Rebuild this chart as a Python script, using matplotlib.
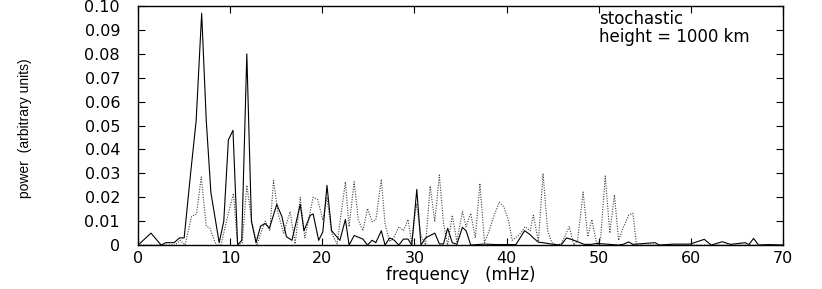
import matplotlib.pyplot as plt
from matplotlib.ticker import FuncFormatter

# solid curve
solid_f = [0, 1.4, 2.5, 3.0, 3.9, 4.5, 5.0, 5.7, 6.3, 6.9, 7.4, 7.9, 8.8, 9.3, 9.8,
           10.3, 10.8, 11.25, 11.8, 12.3, 12.8, 13.3, 13.8, 14.25, 15.05, 15.6, 16.1,
           16.7, 17.6, 18.0, 18.7, 19.0, 19.6, 20.05, 20.5, 21.0, 21.9, 22.5, 22.9,
           23.45, 24.4, 24.9, 25.4, 25.8, 26.4, 26.8, 27.3, 27.8, 28.3, 28.8, 29.3,
           29.7, 30.25, 30.7, 31.2, 31.7, 32.2, 32.7, 33.15, 33.6, 34.1, 34.6, 35.2,
           35.6, 36.1, 37.5, 39.0, 41.0, 41.95, 42.5, 42.9, 43.45, 43.95, 44.9, 45.9,
           46.5, 47.3, 48.4, 49.25, 49.8, 52.15, 52.7, 53.25, 53.7, 56.1, 56.6, 58.1,
           59.9, 61.45, 62.2, 63.4, 64.3, 65.9, 66.3, 66.8, 67.35, 68.4, 70]
solid_p = [0, 0.005, 0, 0.001, 0.001, 0.003, 0.003, 0.030, 0.052, 0.097, 0.052, 0.022,
           0.001, 0.010, 0.044, 0.048, 0, 0.002, 0.080, 0.010, 0.001, 0.008, 0.009,
           0.007, 0.017, 0.012, 0.0035, 0.002, 0.017, 0.006, 0.0125, 0.013, 0.002,
           0.0055, 0.025, 0.006, 0.002, 0.0107, 0, 0.004, 0.0025, 0, 0.002, 0.001,
           0.006, 0, 0.003, 0.002, 0, 0.0025, 0.0025, 0, 0.0233, 0, 0.003, 0.004,
           0.005, 0.0005, 0.0005, 0.007, 0.001, 0.0003, 0.0074, 0.006, 0, 0.0004,
           0.0002, 0.0002, 0.006, 0.0045, 0.003, 0.0012, 0.001, 0.0004, 0, 0.003,
           0.002, 0.0003, 0.0003, 0.0007, 0, 0.0004, 0.0013, 0.0003, 0.001, 0, 0.0004,
           0.0004, 0.0024, 0, 0.0014, 0.0003, 0.001, 0.0002, 0.0028, 0, 0.0002, 0]

# dotted curve
dot_f = [0, 4.0, 4.56, 5.1, 5.8, 6.35, 6.85, 7.4, 7.8, 8.47, 9.0, 9.45, 10.35, 10.8,
         11.3, 11.8, 12.35, 12.9, 13.4, 13.8, 14.3, 14.7, 15.2, 15.8, 16.5, 17.05,
         17.6, 18.1, 19.0, 19.5, 20.05, 20.5, 21.0, 21.6, 22.5, 22.9, 23.45, 23.9,
         24.4, 24.9, 25.4, 25.8, 26.4, 26.8, 27.3, 27.8, 28.3, 28.8, 29.3, 29.7,
         30.2, 30.7, 31.2, 31.7, 32.2, 32.7, 33.15, 33.6, 34.1, 34.6, 35.2, 35.6,
         36.1, 36.6, 37.1, 37.6, 38.1, 38.65, 39.2, 39.7, 40.2, 40.6, 41.1, 41.65,
         42.0, 42.55, 42.9, 43.45, 43.95, 44.45, 44.9, 45.4, 45.9, 46.3, 46.8, 47.3,
         47.7, 48.3, 48.8, 49.25, 49.8, 50.2, 50.7, 51.2, 51.7, 52.15, 52.7, 53.25,
         53.7, 54.1, 70]
dot_p = [0, 0, 0.002, 0, 0.012, 0.013, 0.0285, 0.008, 0.007, 0, 0, 0.0077, 0.0216, 0,
         0.001, 0.025, 0.0098, 0, 0.006, 0.010, 0.006, 0.027, 0.013, 0.005, 0.014,
         0.0005, 0.020, 0.003, 0.020, 0.019, 0.0105, 0.020, 0.005, 0.0005, 0.0265,
         0.0077, 0.0265, 0.0105, 0.006, 0.0153, 0.0098, 0.0105, 0.0275, 0.009,
         0.0014, 0.0035, 0.0077, 0.006, 0.0107, 0.0007, 0.0174, 0.004, 0, 0.0247,
         0.0098, 0.0293, 0.009, 0, 0.0125, 0.0015, 0.014, 0.0077, 0.0133, 0.003,
         0.0258, 0.001, 0.006, 0.0125, 0.018, 0.016, 0.0105, 0.002, 0.0035, 0.0055,
         0.0077, 0.006, 0.0125, 0.0015, 0.030, 0.006, 0.001, 0, 0.0005, 0.0035,
         0.0077, 0, 0.002, 0.0222, 0.0035, 0.0107, 0, 0.0025, 0.0289, 0.005, 0.021,
         0.002, 0.0077, 0.0125, 0.0133, 0, 0]

x_ticks = [0, 10, 20, 30, 40, 50, 60, 70]
y_ticks = [0, 0.01, 0.02, 0.03, 0.04, 0.05, 0.06, 0.07, 0.08, 0.09, 0.10]

fig = plt.figure(figsize=(8.22, 2.89), dpi=100)
ax = fig.add_axes([0.168, 0.152, 0.7846, 0.827])

ax.plot(dot_f, dot_p, color='0.25', lw=0.8, ls=(0, (1, 1.3)))
ax.plot(solid_f, solid_p, color='black', lw=0.8)

ax.set_xlim(0, 70)
ax.set_ylim(0, 0.10)
ax.set_xticks(x_ticks)
ax.set_yticks(y_ticks)
ax.yaxis.set_major_formatter(FuncFormatter(lambda v, p: '0' if v == 0 else '%.2f' % v))
ax.tick_params(direction='in', length=5, width=0.8, top=True, right=True,
               labelsize=11.5)
ax.tick_params(axis='y', pad=13)
ax.tick_params(axis='x', pad=4)
for lab in ax.get_xticklabels() + ax.get_yticklabels():
    lab.set_family('DejaVu Sans')
for s in ax.spines.values():
    s.set_linewidth(1.0)

ax.set_xlabel('frequency   (mHz)', fontsize=12, family='DejaVu Sans', labelpad=0)
ax.set_ylabel('power  (arbitrary units)', fontsize=10,
              family=['Liberation Sans Narrow', 'Liberation Sans'])
ax.yaxis.set_label_coords(-0.164, 0.49)

ax.text(0.715, 0.945, 'stochastic', transform=ax.transAxes, fontsize=12,
        family='DejaVu Sans', va='center')
ax.text(0.715, 0.87, 'height = 1000 km', transform=ax.transAxes, fontsize=12,
        family='DejaVu Sans', va='center')

fig.savefig('out.png', dpi=100)
